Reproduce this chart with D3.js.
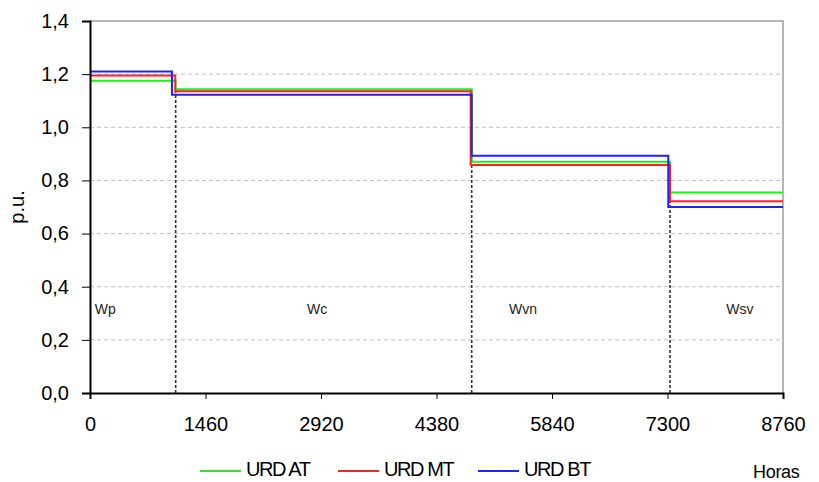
<!DOCTYPE html>
<html>
<head>
<meta charset="utf-8">
<script src="https://cdn.jsdelivr.net/npm/d3@7"></script>
<style>
  html, body { margin: 0; padding: 0; background: #fff; }
  text { font-family: "Liberation Sans", Arial, sans-serif; }
</style>
</head>
<body>
<svg id="chart" width="819" height="482"></svg>
<script>
// ---- data ----
const periods = ["Wp", "Wc", "Wvn", "Wsv"];
const seriesNames = ["URD AT", "URD MT", "URD BT"];
const seriesColors = ["#22ee22", "#ff2020", "#2020ff"];
const urdAT = [1.175, 1.143, 0.870, 0.755];
const urdMT = [1.195, 1.136, 0.858, 0.722];
const urdBT = [1.210, 1.122, 0.893, 0.700];
// hours where each series changes period
const stepsAT = [1082, 4825, 7332];
const stepsMT = [1078, 4812, 7332];
const stepsBT = [1036, 4825, 7310];
const dividerHours = [1083, 4825, 7332];
const dividerTops = [1.14, 1.14, 0.87];
const labelHours = [60, 2870, 5473, 8215];
const labelY = 0.312;
const xTicks = [0, 1460, 2920, 4380, 5840, 7300, 8760];
const yTicks = [0, 0.2, 0.4, 0.6, 0.8, 1.0, 1.2, 1.4];
const xMax = 8760, yMax = 1.4;

// ---- layout ----
const svg = d3.select("#chart");
const L = 90, R = 783, T = 21, B = 393;
const x = d3.scaleLinear().domain([0, xMax]).range([L, R]);
const y = d3.scaleLinear().domain([0, yMax]).range([B, T]);
const fmt = v => d3.format(".1f")(v).replace(".", ",");
const FS = 20;

// gridlines
svg.append("g").selectAll("line")
  .data(yTicks.filter(v => v > 0 && v < yMax))
  .join("line")
  .attr("x1", L).attr("x2", R)
  .attr("y1", d => y(d)).attr("y2", d => y(d))
  .attr("stroke", "#c0c0c0").attr("stroke-width", 1)
  .attr("stroke-dasharray", "4,3");

// plot border top/right
svg.append("path")
  .attr("d", `M${L},${y(yMax)}H${R}V${B}`)
  .attr("fill", "none").attr("stroke", "#a0a0a0").attr("stroke-width", 1.5);

// divider dashed lines
svg.append("g").selectAll("line")
  .data(dividerHours)
  .join("line")
  .attr("x1", d => x(d)).attr("x2", d => x(d))
  .attr("y1", y(0)).attr("y2", (d, i) => y(dividerTops[i]))
  .attr("stroke", "#333").attr("stroke-width", 1.6)
  .attr("stroke-dasharray", "3,2");

// period labels
svg.append("g").selectAll("text")
  .data(periods)
  .join("text")
  .attr("x", (d, i) => x(labelHours[i]))
  .attr("y", y(labelY))
  .attr("text-anchor", (d, i) => i === 0 ? "start" : "middle")
  .attr("dominant-baseline", "middle")
  .attr("font-size", 14)
  .attr("fill", "#222")
  .text(d => d);

// step lines
const allSeries = [
  { name: seriesNames[0], vals: urdAT, steps: stepsAT, color: seriesColors[0] },
  { name: seriesNames[1], vals: urdMT, steps: stepsMT, color: seriesColors[1] },
  { name: seriesNames[2], vals: urdBT, steps: stepsBT, color: seriesColors[2] }
];
function stepPoints(s) {
  const bounds = [0, ...s.steps, xMax];
  const pts = [];
  s.vals.forEach((v, i) => {
    pts.push([bounds[i], v]);
    pts.push([bounds[i + 1], v]);
  });
  return pts;
}
const line = d3.line().x(d => x(d[0])).y(d => y(d[1]));
svg.append("g").selectAll("path")
  .data(allSeries)
  .join("path")
  .attr("d", d => line(stepPoints(d)))
  .attr("fill", "none")
  .attr("stroke", d => d.color)
  .attr("stroke-width", 2);

// axes
const yAxis = d3.axisLeft(y).tickValues(yTicks).tickFormat(fmt).tickSize(8).tickPadding(13);
const gy = svg.append("g").attr("transform", `translate(${L},0)`).call(yAxis);
gy.select(".domain").attr("stroke", "#000").attr("stroke-width", 2);
gy.selectAll(".tick line").attr("stroke", "#000").attr("stroke-width", 1);
gy.selectAll(".tick text").attr("font-size", FS).attr("fill", "#000")
  .attr("font-family", "'Liberation Sans', Arial, sans-serif");

const xAxis = d3.axisBottom(x).tickValues(xTicks).tickFormat(d3.format("d")).tickSize(6).tickPadding(18);
const gx = svg.append("g").attr("transform", `translate(0,${B})`).call(xAxis);
gx.select(".domain").attr("stroke", "#000").attr("stroke-width", 2);
gx.selectAll(".tick line").attr("stroke", "#000").attr("stroke-width", 1);
gx.selectAll(".tick text").attr("font-size", FS).attr("fill", "#000")
  .attr("font-family", "'Liberation Sans', Arial, sans-serif");

// y label
svg.append("text")
  .attr("transform", `translate(19,${(T + B) / 2}) rotate(-90)`)
  .attr("text-anchor", "middle")
  .attr("dominant-baseline", "middle")
  .attr("font-size", FS)
  .text("p.u.");

// legend
const legX = [200, 338, 478];
const legY = 471;
const lg = svg.append("g");
allSeries.forEach((s, i) => {
  lg.append("line")
    .attr("x1", legX[i]).attr("x2", legX[i] + 41)
    .attr("y1", legY).attr("y2", legY)
    .attr("stroke", s.color).attr("stroke-width", 2);
  lg.append("text")
    .attr("x", legX[i] + 46).attr("y", legY)
    .attr("dominant-baseline", "middle")
    .attr("font-size", FS)
    .attr("letter-spacing", -1.4)
    .text(s.name);
});
svg.append("text")
  .attr("x", 753).attr("y", 473)
  .attr("dominant-baseline", "middle")
  .attr("font-size", 18)
  .attr("letter-spacing", -0.3)
  .text("Horas");
</script>
</body>
</html>
